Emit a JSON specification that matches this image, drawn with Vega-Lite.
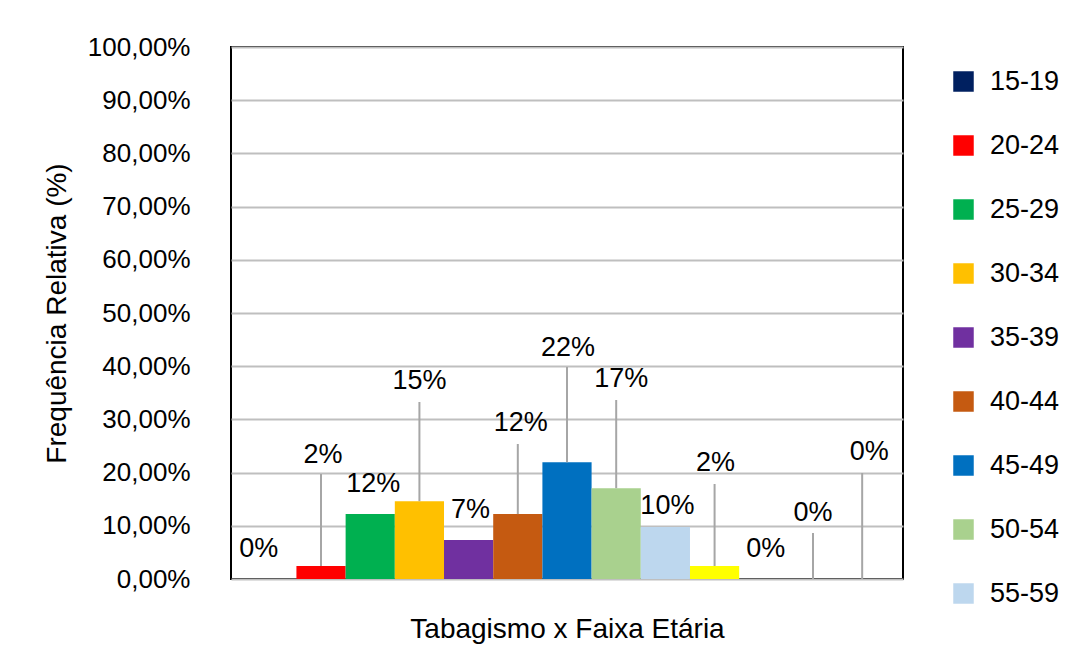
{
  "$schema": "https://vega.github.io/schema/vega-lite/v6.json",
  "width": 672,
  "height": 532,
  "autosize": {"type": "none"},
  "padding": {"left": 231, "top": 47, "right": 164, "bottom": 79},
  "background": "#ffffff",
  "config": {
    "font": "Liberation Sans",
    "view": {"stroke": "#000000", "strokeWidth": 2},
    "axis": {"labelColor": "#000000", "titleColor": "#000000", "titleFontWeight": "normal"},
    "legend": {"labelColor": "#000000"}
  },
  "data": {
    "values": [
      {"faixa": "15-19", "freq": 0},
      {"faixa": "20-24", "freq": 0.0244},
      {"faixa": "25-29", "freq": 0.1220},
      {"faixa": "30-34", "freq": 0.1463},
      {"faixa": "35-39", "freq": 0.0732},
      {"faixa": "40-44", "freq": 0.1220},
      {"faixa": "45-49", "freq": 0.2195},
      {"faixa": "50-54", "freq": 0.1707},
      {"faixa": "55-59", "freq": 0.0976},
      {"faixa": "60-64", "freq": 0.0244},
      {"faixa": "65-69", "freq": 0},
      {"faixa": "70-74", "freq": 0},
      {"faixa": "75-79", "freq": 0}
    ]
  },
  "encoding": {
    "x": {
      "field": "faixa",
      "type": "nominal",
      "sort": null,
      "scale": {"paddingInner": 0, "paddingOuter": 0.33},
      "axis": {
        "labels": false,
        "ticks": false,
        "domain": false,
        "title": "Tabagismo x Faixa Etária",
        "titleFontSize": 28,
        "titlePadding": 36
      }
    }
  },
  "layer": [
    {
      "mark": {"type": "bar"},
      "encoding": {
        "y": {
          "field": "freq",
          "type": "quantitative",
          "scale": {"domain": [0, 1], "nice": false},
          "axis": {
            "values": [0, 0.1, 0.2, 0.3, 0.4, 0.5, 0.6, 0.7, 0.8, 0.9, 1],
            "labelExpr": "replace(format(datum.value, '.2%'), '.', ',')",
            "labelFontSize": 26,
            "labelPadding": 41,
            "ticks": false,
            "tickSize": 0,
            "domain": false,
            "grid": true,
            "gridColor": "#BFBFBF",
            "gridWidth": 2,
            "title": "Frequência Relativa (%)",
            "titleFontSize": 28,
            "titlePadding": 16
          }
        },
        "color": {
          "field": "faixa",
          "type": "nominal",
          "sort": null,
          "scale": {
            "domain": ["15-19", "20-24", "25-29", "30-34", "35-39", "40-44", "45-49", "50-54", "55-59", "60-64", "65-69", "70-74", "75-79"],
            "range": ["#002060", "#FF0000", "#00B050", "#FFC000", "#7030A0", "#C55A11", "#0070C0", "#A9D18E", "#BDD7EE", "#FFFF00", "#00B0F0", "#92D050", "#FF66CC"]
          },
          "legend": {
            "values": ["15-19", "20-24", "25-29", "30-34", "35-39", "40-44", "45-49", "50-54", "55-59"],
            "title": null,
            "orient": "right",
            "offset": 26,
            "padding": 21,
            "symbolType": "square",
            "symbolSize": 420,
            "symbolStrokeWidth": 0,
            "labelFontSize": 27,
            "labelOffset": 13,
            "rowPadding": 36
          }
        }
      }
    },
    {
      "transform": [{"filter": "datum.faixa == '15-19'"}],
      "mark": {"type": "text", "fontSize": 27, "baseline": "middle", "dx": -13},
      "encoding": {"y": {"datum": 0.0564}, "text": {"field": "freq", "format": ".0%"}}
    },
    {
      "transform": [{"filter": "datum.faixa == '20-24'"}],
      "layer": [
        {"mark": {"type": "rule", "color": "#A6A6A6", "strokeWidth": 2}, "encoding": {"y": {"field": "freq", "type": "quantitative"}, "y2": {"datum": 0.1974}}},
        {"mark": {"type": "text", "fontSize": 27, "baseline": "middle", "dx": 2}, "encoding": {"y": {"datum": 0.2331}, "text": {"field": "freq", "format": ".0%"}}}
      ]
    },
    {
      "transform": [{"filter": "datum.faixa == '25-29'"}],
      "mark": {"type": "text", "fontSize": 27, "baseline": "middle", "dx": 3},
      "encoding": {"y": {"datum": 0.1786}, "text": {"field": "freq", "format": ".0%"}}
    },
    {
      "transform": [{"filter": "datum.faixa == '30-34'"}],
      "layer": [
        {"mark": {"type": "rule", "color": "#A6A6A6", "strokeWidth": 2}, "encoding": {"y": {"field": "freq", "type": "quantitative"}, "y2": {"datum": 0.3327}}},
        {"mark": {"type": "text", "fontSize": 27, "baseline": "middle", "dx": 0}, "encoding": {"y": {"datum": 0.3722}, "text": {"field": "freq", "format": ".0%"}}}
      ]
    },
    {
      "transform": [{"filter": "datum.faixa == '35-39'"}],
      "mark": {"type": "text", "fontSize": 27, "baseline": "middle", "dx": 2},
      "encoding": {"y": {"datum": 0.1297}, "text": {"field": "freq", "format": ".0%"}}
    },
    {
      "transform": [{"filter": "datum.faixa == '40-44'"}],
      "layer": [
        {"mark": {"type": "rule", "color": "#A6A6A6", "strokeWidth": 2}, "encoding": {"y": {"field": "freq", "type": "quantitative"}, "y2": {"datum": 0.2538}}},
        {"mark": {"type": "text", "fontSize": 27, "baseline": "middle", "dx": 3}, "encoding": {"y": {"datum": 0.2932}, "text": {"field": "freq", "format": ".0%"}}}
      ]
    },
    {
      "transform": [{"filter": "datum.faixa == '45-49'"}],
      "layer": [
        {"mark": {"type": "rule", "color": "#A6A6A6", "strokeWidth": 2}, "encoding": {"y": {"field": "freq", "type": "quantitative"}, "y2": {"datum": 0.3985}}},
        {"mark": {"type": "text", "fontSize": 27, "baseline": "middle", "dx": 1}, "encoding": {"y": {"datum": 0.4342}, "text": {"field": "freq", "format": ".0%"}}}
      ]
    },
    {
      "transform": [{"filter": "datum.faixa == '50-54'"}],
      "layer": [
        {"mark": {"type": "rule", "color": "#A6A6A6", "strokeWidth": 2}, "encoding": {"y": {"field": "freq", "type": "quantitative"}, "y2": {"datum": 0.3365}}},
        {"mark": {"type": "text", "fontSize": 27, "baseline": "middle", "dx": 5}, "encoding": {"y": {"datum": 0.3759}, "text": {"field": "freq", "format": ".0%"}}}
      ]
    },
    {
      "transform": [{"filter": "datum.faixa == '55-59'"}],
      "mark": {"type": "text", "fontSize": 27, "baseline": "middle", "dx": 2},
      "encoding": {"y": {"datum": 0.1372}, "text": {"field": "freq", "format": ".0%"}}
    },
    {
      "transform": [{"filter": "datum.faixa == '60-64'"}],
      "layer": [
        {"mark": {"type": "rule", "color": "#A6A6A6", "strokeWidth": 2}, "encoding": {"y": {"field": "freq", "type": "quantitative"}, "y2": {"datum": 0.1786}}},
        {"mark": {"type": "text", "fontSize": 27, "baseline": "middle", "dx": 1}, "encoding": {"y": {"datum": 0.2180}, "text": {"field": "freq", "format": ".0%"}}}
      ]
    },
    {
      "transform": [{"filter": "datum.faixa == '65-69'"}],
      "mark": {"type": "text", "fontSize": 27, "baseline": "middle", "dx": 2},
      "encoding": {"y": {"datum": 0.0564}, "text": {"field": "freq", "format": ".0%"}}
    },
    {
      "transform": [{"filter": "datum.faixa == '70-74'"}],
      "layer": [
        {"mark": {"type": "rule", "color": "#A6A6A6", "strokeWidth": 2}, "encoding": {"y": {"field": "freq", "type": "quantitative"}, "y2": {"datum": 0.0865}}},
        {"mark": {"type": "text", "fontSize": 27, "baseline": "middle", "dx": 0}, "encoding": {"y": {"datum": 0.1241}, "text": {"field": "freq", "format": ".0%"}}}
      ]
    },
    {
      "transform": [{"filter": "datum.faixa == '75-79'"}],
      "layer": [
        {"mark": {"type": "rule", "color": "#A6A6A6", "strokeWidth": 2}, "encoding": {"y": {"field": "freq", "type": "quantitative"}, "y2": {"datum": 0.1992}}},
        {"mark": {"type": "text", "fontSize": 27, "baseline": "middle", "dx": 7}, "encoding": {"y": {"datum": 0.2378}, "text": {"field": "freq", "format": ".0%"}}}
      ]
    }
  ]
}
